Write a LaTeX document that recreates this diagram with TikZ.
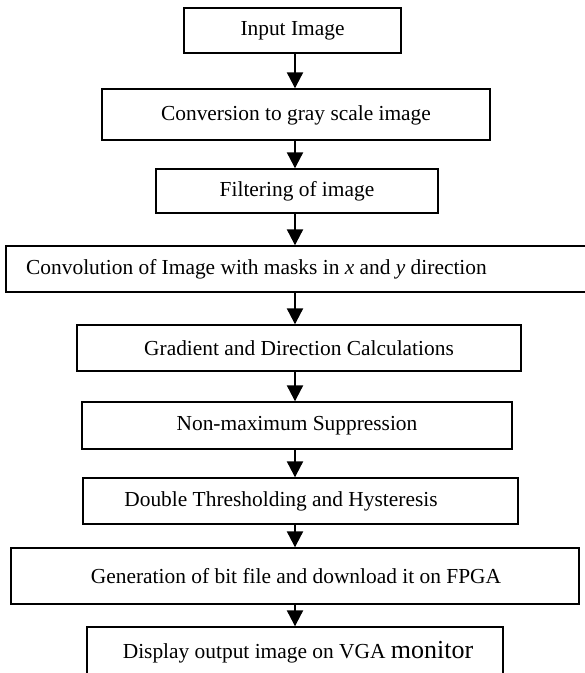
\documentclass[tikz,border=0pt]{standalone}
\usepackage{fontspec}
\setmainfont{Liberation Serif}
\usetikzlibrary{arrows.meta,calc}
\begin{document}
\begin{tikzpicture}[x=1pt,y=-1pt,
  box/.style={draw,line width=1.4pt,rectangle,inner sep=0pt},
  txt/.style={inner sep=0pt,font=\fontsize{21.4}{25}\selectfont},
  arr/.style={line width=2.2pt,-{Triangle[width=16pt,length=16pt]}}]
\useasboundingbox (0,0) rectangle (585,673);
% boxes
\node[box,minimum width=217pt,minimum height=45pt] (b1) at (292.5,30.5) {};
\node[box,minimum width=388pt,minimum height=51pt] (b2) at (296,114.5) {};
\node[box,minimum width=282pt,minimum height=44pt] (b3) at (297,191) {};
\node[box,minimum width=600pt,minimum height=46pt] (b4) at (306,269) {};
\node[box,minimum width=444pt,minimum height=46pt] (b5) at (299,348) {};
\node[box,minimum width=430pt,minimum height=47pt] (b6) at (297,425.5) {};
\node[box,minimum width=435pt,minimum height=46pt] (b7) at (300.5,501) {};
\node[box,minimum width=568pt,minimum height=56pt] (b8) at (295,576) {};
\node[box,minimum width=416pt,minimum height=64pt] (b9) at (295,659) {};
% texts
\node[txt] (t1) at (292.5,31) {Input Image};
\node[txt] (t2) at (296,115) {Conversion to gray scale image};
\node[txt] (t3) at (297,191.5) {Filtering of image};
\node[txt,anchor=west] (t4) at (26,269.5) {Convolution of Image with masks in \textit{x} and \textit{y} direction};
\node[txt] (t5) at (299,348.5) {Gradient and Direction Calculations};
\node[txt] (t6) at (297,426) {Non-maximum Suppression};
\node[txt] (t7) at (281,501.5) {Double Thresholding and Hysteresis};
\node[txt] (t8) at (296,576.5) {Generation of bit file and download it on FPGA};
\node[txt,anchor=base] (t9) at (298,658) {Display output image on VGA {\fontsize{26}{29}\selectfont monitor}};
% arrows
\coordinate (ax) at (295,0);
\foreach \a/\b in {b1/b2,b2/b3,b3/b4,b4/b5,b5/b6,b6/b7,b7/b8,b8/b9}{
  \draw[arr] (\a.south -| ax) -- (\b.north -| ax);
}
\end{tikzpicture}
\end{document}
